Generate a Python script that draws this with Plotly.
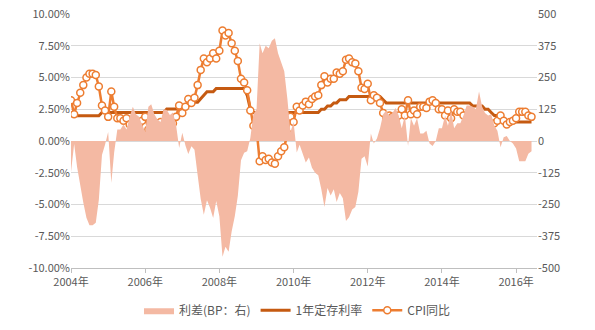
import plotly.graph_objects as go
import pandas as pd

months = pd.date_range("2004-01-01", "2016-06-01", freq="MS").strftime("%Y-%m-%d").tolist()

cpi = [
    3.2, 2.1, 3.0, 3.8, 4.4, 5.0, 5.3, 5.3, 5.2, 4.3, 2.8, 2.4,
    1.9, 3.9, 2.7, 1.8, 1.8, 1.6, 1.8, 1.3, 0.9, 1.2, 1.3, 1.6,
    1.9, 0.9, 0.8, 1.2, 1.4, 1.5, 1.0, 1.3, 1.5, 1.4, 1.9, 2.8,
    2.2, 2.7, 3.3, 3.0, 3.4, 4.4, 5.6, 6.5, 6.2, 6.5, 6.9, 6.5,
    7.1, 8.7, 8.3, 8.5, 7.7, 7.1, 6.3, 4.9, 4.6, 4.0, 2.4, 1.2,
    1.0, -1.6, -1.2, -1.5, -1.4, -1.7, -1.8, -1.2, -0.8, -0.5, 0.6, 1.9,
    1.5, 2.7, 2.4, 2.8, 3.1, 2.9, 3.3, 3.5, 3.6, 4.4, 5.1, 4.6,
    4.9, 4.9, 5.4, 5.3, 5.5, 6.4, 6.5, 6.2, 6.1, 5.5, 4.2, 4.1,
    4.5, 3.2, 3.6, 3.4, 3.0, 2.2, 1.8, 2.0, 1.9, 1.7, 2.0, 2.5,
    2.0, 3.2, 2.1, 2.4, 2.1, 2.7, 2.7, 2.6, 3.1, 3.2, 3.0, 2.5,
    2.5, 2.0, 2.4, 1.8, 2.5, 2.3, 2.3, 2.0, 1.6, 1.6, 1.4, 1.5,
    0.8, 1.4, 1.4, 1.5, 1.2, 1.4, 1.6, 2.0, 1.6, 1.3, 1.5, 1.6,
    1.8, 2.3, 2.3, 2.3, 2.0, 1.9,
]

rate = [
    1.98, 1.98, 1.98, 1.98, 1.98, 1.98, 1.98, 1.98, 1.98, 1.98, 2.25, 2.25,
    2.25, 2.25, 2.25, 2.25, 2.25, 2.25, 2.25, 2.25, 2.25, 2.25, 2.25, 2.25,
    2.25, 2.25, 2.25, 2.25, 2.25, 2.25, 2.25, 2.52, 2.52, 2.52, 2.52, 2.52,
    2.52, 2.52, 2.79, 2.79, 3.06, 3.06, 3.33, 3.60, 3.87, 3.87, 3.87, 4.14,
    4.14, 4.14, 4.14, 4.14, 4.14, 4.14, 4.14, 4.14, 4.14, 3.60, 2.52, 2.25,
    2.25, 2.25, 2.25, 2.25, 2.25, 2.25, 2.25, 2.25, 2.25, 2.25, 2.25, 2.25,
    2.25, 2.25, 2.25, 2.25, 2.25, 2.25, 2.25, 2.25, 2.25, 2.50, 2.50, 2.75,
    2.75, 3.00, 3.00, 3.25, 3.25, 3.25, 3.50, 3.50, 3.50, 3.50, 3.50, 3.50,
    3.50, 3.50, 3.50, 3.50, 3.50, 3.25, 3.00, 3.00, 3.00, 3.00, 3.00, 3.00,
    3.00, 3.00, 3.00, 3.00, 3.00, 3.00, 3.00, 3.00, 3.00, 3.00, 3.00, 3.00,
    3.00, 3.00, 3.00, 3.00, 3.00, 3.00, 3.00, 3.00, 3.00, 3.00, 2.75, 2.75,
    2.75, 2.75, 2.50, 2.50, 2.25, 2.00, 2.00, 1.75, 1.75, 1.50, 1.50, 1.50,
    1.50, 1.50, 1.50, 1.50, 1.50, 1.50,
]

spread_bp = [
    -122, -12, -102, -182, -242, -302, -332, -332, -322, -232, -55, -15,
    35, -165, -45, 45, 45, 65, 45, 95, 135, 105, 95, 65,
    35, 135, 145, 105, 85, 75, 125, 122, 102, 112, 62, -28,
    32, -18, -51, -21, -34, -134, -227, -290, -233, -263, -303, -236,
    -296, -456, -416, -436, -356, -296, -216, -76, -46, -40, 12, 105,
    125, 385, 345, 375, 365, 395, 405, 345, 305, 275, 165, 35,
    75, -45, -15, -55, -85, -65, -105, -125, -135, -190, -260, -185,
    -215, -190, -240, -205, -225, -315, -300, -270, -260, -200, -70, -60,
    -100, 30, -10, 10, 50, 105, 120, 100, 110, 130, 100, 50,
    100, -20, 90, 60, 90, 30, 30, 40, -10, -20, 0, 50,
    50, 100, 60, 120, 50, 70, 70, 100, 140, 140, 135, 125,
    195, 135, 110, 100, 105, 60, 40, -25, 15, 20, 0, -10,
    -30, -80, -80, -80, -50, -40,
]

left_ticks = [-10, -7.5, -5, -2.5, 0, 2.5, 5, 7.5, 10]
right_ticks = [-500, -375, -250, -125, 0, 125, 250, 375, 500]

FONT = "Noto Sans CJK SC, Noto Sans, sans-serif"
GRAY = "#595959"

fig = go.Figure()
fig.add_trace(go.Scatter(
    x=months, y=spread_bp, name="利差(BP：右)", yaxis="y2",
    mode="lines", line=dict(width=0, color="#F4B9A3"),
    fill="tozeroy", fillcolor="#F4B9A3",
))
fig.add_trace(go.Scatter(
    x=months, y=rate, name="1年定存利率", mode="lines",
    line=dict(color="#C55A11", width=3),
))
fig.add_trace(go.Scatter(
    x=months, y=cpi, name="CPI同比", mode="lines+markers",
    line=dict(color="#ED7D31", width=2.5),
    marker=dict(symbol="circle", size=7, color="white",
                line=dict(color="#ED7D31", width=1.5)),
))

fig.update_layout(
    width=595, height=330,
    margin=dict(l=71, r=58, t=14, b=62, autoexpand=False),
    paper_bgcolor="white", plot_bgcolor="white",
    font=dict(family=FONT, size=11, color=GRAY),
    showlegend=True,
    legend=dict(orientation="h", xref="container", yref="container",
                x=0.5, xanchor="center", y=0.06, yanchor="middle",
                font=dict(size=12, color=GRAY), itemwidth=30,
                tracegroupgap=0),
    xaxis=dict(
        type="date", range=["2004-01-01", "2016-07-25"],
        tickvals=["2004-01-01", "2006-01-01", "2008-01-01", "2010-01-01",
                  "2012-01-01", "2014-01-01", "2016-01-01"],
        ticktext=["2004年", "2006年", "2008年", "2010年", "2012年", "2014年", "2016年"],
        showgrid=False, showline=True, linecolor="#BFBFBF", linewidth=1,
        ticks="outside", ticklen=4, tickcolor="#BFBFBF",
        tickfont=dict(size=11, color=GRAY),
    ),
    yaxis=dict(
        range=[-10, 10], tickvals=left_ticks,
        ticktext=[f"{v:.2f}%" for v in left_ticks],
        showgrid=True, gridcolor="#D9D9D9", gridwidth=1,
        zeroline=False, showline=False,
        tickfont=dict(size=11, color=GRAY),
    ),
    yaxis2=dict(
        range=[-500, 500], tickvals=right_ticks,
        ticktext=[str(v) for v in right_ticks],
        overlaying="y", side="right", showgrid=False, zeroline=False,
        showline=False, tickfont=dict(size=11, color=GRAY),
    ),
)

fig.write_html("out.html")
